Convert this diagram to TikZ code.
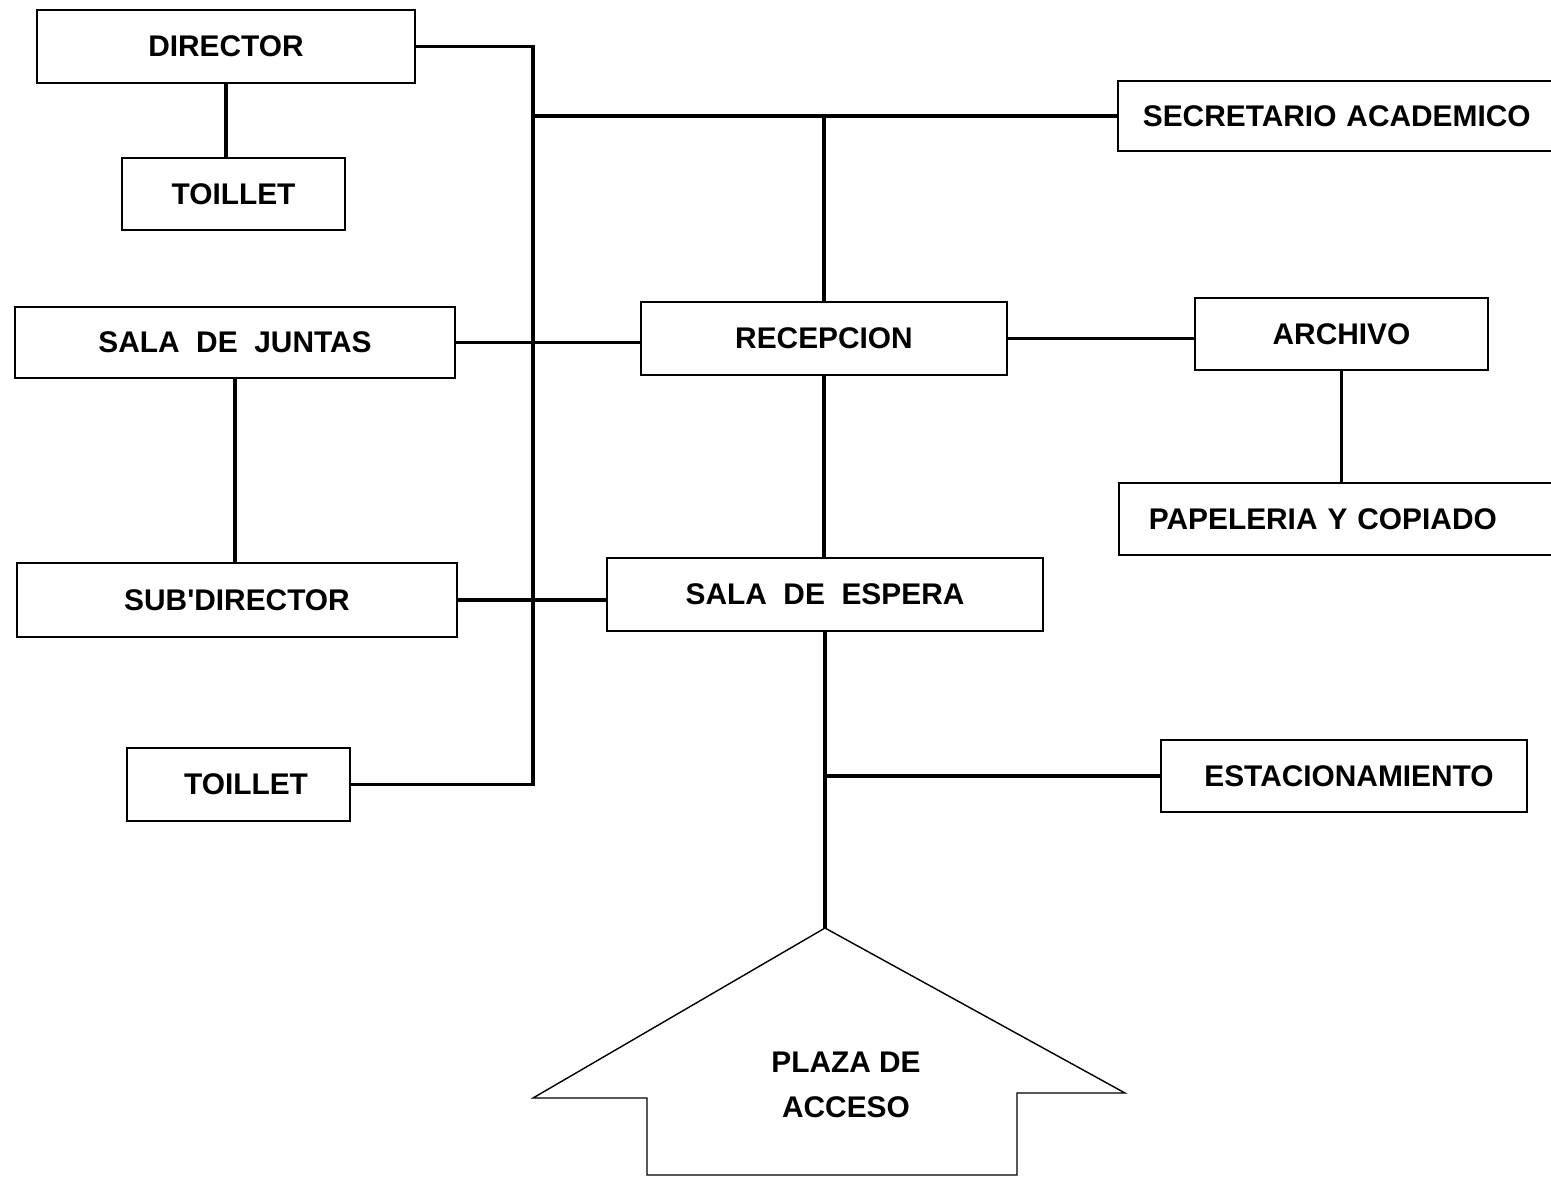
\documentclass[tikz,border=0pt]{standalone}
\usepackage{fontspec}
\setmainfont{Liberation Sans}
\begin{document}
\begin{tikzpicture}[x=0.02cm, y=-0.02cm,
  room/.style={draw, line width=1pt, inner sep=0pt, font=\fontsize{17}{20}\selectfont\bfseries},
  openroom/.style={room, anchor=west, align=left, text width=8cm},
  link/.style={line width=2pt},
  plaza/.style={line width=0.8pt}]
\useasboundingbox (0,0) rectangle (1551,1177);
\clip (0,0) rectangle (1551,1177);

\node[room, minimum width=7.56cm, minimum height=1.46cm] (director) at (226, 46.5) {DIRECTOR};
\node[room, minimum width=4.46cm, minimum height=1.44cm] (toilletA) at (233.5, 194) {TOILLET};
\node[openroom, inner xsep=0.5cm, minimum height=1.4cm] (secretario) at (1117, 116) {SECRETARIO ACADEMICO};
\node[room, minimum width=8.8cm, minimum height=1.42cm] (juntas) at (235, 342.5) {SALA\ \ DE\ \ JUNTAS};
\node[room, minimum width=7.32cm, minimum height=1.46cm] (recepcion) at (824, 338.5) {RECEPCION};
\node[room, minimum width=5.86cm, minimum height=1.44cm] (archivo) at (1341.5, 334) {ARCHIVO};
\node[openroom, inner xsep=0.6cm, minimum height=1.44cm] (papeleria) at (1118, 519) {PAPELERIA\ Y\ COPIADO};
\node[room, minimum width=8.8cm, minimum height=1.48cm] (subdirector) at (237, 600) {SUB\textquotesingle DIRECTOR};
\node[room, minimum width=8.72cm, minimum height=1.46cm] (espera) at (825, 594.5) {SALA\ \ DE\ \ ESPERA};
\node[room, minimum width=4.46cm, minimum height=1.46cm] (toilletB) at (238.5, 784.5) {\hspace{0.3cm}TOILLET};
\node[room, minimum width=7.32cm, minimum height=1.44cm] (estacionamiento) at (1344, 776) {\hspace{0.2cm}ESTACIONAMIENTO};

\coordinate (spineTop) at (533, 46.5);
\coordinate (spineBot) at (533, 784.5);
\coordinate (apex) at (825, 928);

\draw[link] (director.east) -- (spineTop) -- (spineBot) -- (toilletB.east);
\draw[link] (director.south) -- (director.south |- toilletA.north);
\draw[link] (spineTop |- secretario.west) -- (secretario.west);
\draw[link] (recepcion.north) -- (recepcion.north |- secretario.west);
\draw[link] (juntas.east) -- (juntas.east -| recepcion.west);
\draw[link] (recepcion.east) -- (recepcion.east -| archivo.west);
\draw[link] (archivo.south) -- (archivo.south |- papeleria.north);
\draw[link] (recepcion.south) -- (recepcion.south |- espera.north);
\draw[link] (juntas.south) -- (juntas.south |- subdirector.north);
\draw[link] (subdirector.east) -- (subdirector.east -| espera.west);
\draw[link] (espera.south) -- (apex);
\draw[link] (espera.south |- estacionamiento.west) -- (estacionamiento.west);

\draw[plaza] (apex) -- (533, 1098) -- (647, 1098) -- (647, 1175) -- (1017, 1175)
  -- (1017, 1093) -- (1125, 1093) -- cycle;
\node[font=\fontsize{17}{25.5}\selectfont\bfseries, align=center] (acceso) at (846, 1085) {PLAZA DE\\ACCESO};
\end{tikzpicture}
\end{document}
